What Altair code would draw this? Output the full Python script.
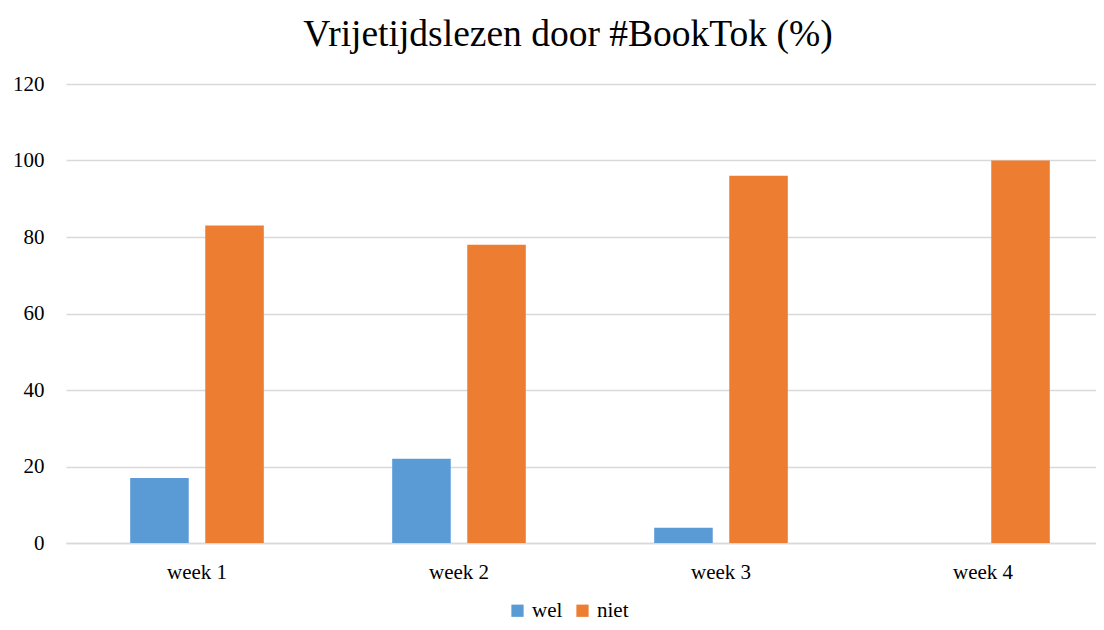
import altair as alt
import pandas as pd

weeks = ["week 1", "week 2", "week 3", "week 4"]
wel = [17, 22, 4, 0]
niet = [83, 78, 96, 100]
series = ["wel", "niet"]
colors = ["#5B9BD5", "#ED7D31"]

rows = []
for i, w in enumerate(weeks):
    rows.append({"week": w, "serie": "wel", "value": wel[i]})
    rows.append({"week": w, "serie": "niet", "value": niet[i]})
df = pd.DataFrame(rows)

FONT = "Liberation Serif"

chart = alt.Chart(df).mark_bar().encode(
    x=alt.X("week:N", sort=weeks, title=None,
            scale=alt.Scale(paddingInner=0.49, paddingOuter=0.245),
            axis=alt.Axis(labelAngle=0, labelFontSize=21, labelFont=FONT, labelColor="#000000",
                          ticks=False, labelPadding=18, domainColor="#d9d9d9", domainWidth=1.5)),
    xOffset=alt.XOffset("serie:N", sort=series, scale=alt.Scale(paddingInner=0.22, paddingOuter=0)),
    y=alt.Y("value:Q", title=None,
            scale=alt.Scale(domain=[0, 120]),
            axis=alt.Axis(values=[0, 20, 40, 60, 80, 100, 120], labelFontSize=21, labelFont=FONT,
                          labelColor="#000000", ticks=False, domain=False, labelPadding=22,
                          gridColor="#d9d9d9", gridWidth=1.5)),
    color=alt.Color("serie:N", sort=series,
                    scale=alt.Scale(domain=series, range=colors),
                    legend=alt.Legend(title=None, orient="none", direction="horizontal",
                                      legendX=441, legendY=516,
                                      symbolType="square", symbolSize=150, symbolStrokeWidth=0,
                                      labelFont=FONT, labelFontSize=21, labelColor="#000000",
                                      columnPadding=9, labelOffset=4)),
).properties(
    width=1048,
    height=459,
    title=alt.TitleParams("Vrijetijdslezen door #BookTok (%)", font=FONT, fontSize=37.5,
                          fontWeight="normal", color="#000000", anchor="middle", offset=20, dx=-22),
    autosize=alt.AutoSizeParams(type="none"),
    padding={"left": 58, "top": 76, "right": -18, "bottom": 80},
).configure_view(stroke=None)

chart.save("out.html", embed_options={"renderer": "svg", "actions": False})
